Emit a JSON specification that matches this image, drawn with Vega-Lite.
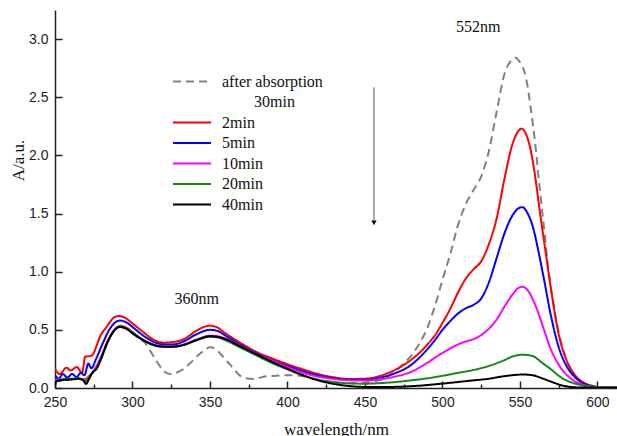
{
  "$schema": "https://vega.github.io/schema/vega-lite/v6.json",
  "width": 562,
  "height": 378,
  "autosize": "none",
  "padding": {"left": 55, "top": 10, "right": 0, "bottom": 48},
  "background": "white",
  "config": {"view": {"stroke": null}},
  "layer": [
    {
      "data": {"values": [
        {"series":"after absorption","nm":250,"A":0.02},{"series":"after absorption","nm":251,"A":0.06},{"series":"after absorption","nm":253,"A":0.065},{"series":"after absorption","nm":256,"A":0.07},{"series":"after absorption","nm":259,"A":0.072},{"series":"after absorption","nm":262,"A":0.075},{"series":"after absorption","nm":265,"A":0.08},{"series":"after absorption","nm":268,"A":0.07},{"series":"after absorption","nm":270,"A":0.035},{"series":"after absorption","nm":272,"A":0.08},{"series":"after absorption","nm":274,"A":0.13},{"series":"after absorption","nm":277,"A":0.17},{"series":"after absorption","nm":280,"A":0.26},{"series":"after absorption","nm":284,"A":0.40},{"series":"after absorption","nm":288,"A":0.49},{"series":"after absorption","nm":292,"A":0.525},{"series":"after absorption","nm":296,"A":0.51},{"series":"after absorption","nm":300,"A":0.47},{"series":"after absorption","nm":305,"A":0.42},{"series":"after absorption","nm":308,"A":0.39},{"series":"after absorption","nm":311,"A":0.33},{"series":"after absorption","nm":315,"A":0.24},{"series":"after absorption","nm":320,"A":0.15},{"series":"after absorption","nm":324,"A":0.12},{"series":"after absorption","nm":328,"A":0.13},{"series":"after absorption","nm":333,"A":0.165},{"series":"after absorption","nm":337,"A":0.21},{"series":"after absorption","nm":341,"A":0.265},{"series":"after absorption","nm":346,"A":0.32},{"series":"after absorption","nm":350,"A":0.35},{"series":"after absorption","nm":353,"A":0.34},{"series":"after absorption","nm":357,"A":0.29},{"series":"after absorption","nm":361,"A":0.23},{"series":"after absorption","nm":365,"A":0.17},{"series":"after absorption","nm":369,"A":0.11},{"series":"after absorption","nm":373,"A":0.085},{"series":"after absorption","nm":378,"A":0.078},{"series":"after absorption","nm":386,"A":0.10},{"series":"after absorption","nm":393,"A":0.105},{"series":"after absorption","nm":400,"A":0.11},{"series":"after absorption","nm":408,"A":0.105},{"series":"after absorption","nm":415,"A":0.085},{"series":"after absorption","nm":425,"A":0.055},{"series":"after absorption","nm":435,"A":0.04},{"series":"after absorption","nm":445,"A":0.04},{"series":"after absorption","nm":455,"A":0.055},{"series":"after absorption","nm":462,"A":0.08},{"series":"after absorption","nm":470,"A":0.15},{"series":"after absorption","nm":475,"A":0.21},{"series":"after absorption","nm":480,"A":0.28},{"series":"after absorption","nm":485,"A":0.38},{"series":"after absorption","nm":490,"A":0.51},{"series":"after absorption","nm":495,"A":0.70},{"series":"after absorption","nm":500,"A":0.93},{"series":"after absorption","nm":505,"A":1.15},{"series":"after absorption","nm":510,"A":1.40},{"series":"after absorption","nm":515,"A":1.58},{"series":"after absorption","nm":520,"A":1.70},{"series":"after absorption","nm":525,"A":1.82},{"series":"after absorption","nm":530,"A":2.04},{"series":"after absorption","nm":535,"A":2.38},{"series":"after absorption","nm":540,"A":2.70},{"series":"after absorption","nm":544,"A":2.81},{"series":"after absorption","nm":547,"A":2.84},{"series":"after absorption","nm":550,"A":2.80},{"series":"after absorption","nm":554,"A":2.66},{"series":"after absorption","nm":557,"A":2.40},{"series":"after absorption","nm":560,"A":2.08},{"series":"after absorption","nm":563,"A":1.68},{"series":"after absorption","nm":566,"A":1.32},{"series":"after absorption","nm":568,"A":1.06},{"series":"after absorption","nm":570,"A":0.86},{"series":"after absorption","nm":575,"A":0.48},{"series":"after absorption","nm":580,"A":0.24},{"series":"after absorption","nm":585,"A":0.11},{"series":"after absorption","nm":590,"A":0.05},{"series":"after absorption","nm":595,"A":0.02},{"series":"after absorption","nm":600,"A":0.008},{"series":"after absorption","nm":610,"A":0.002},

        {"series":"2min","nm":250,"A":0.165},{"series":"2min","nm":253,"A":0.12},{"series":"2min","nm":257.5,"A":0.175},{"series":"2min","nm":260,"A":0.15},{"series":"2min","nm":264,"A":0.18},{"series":"2min","nm":267.5,"A":0.13},{"series":"2min","nm":269.5,"A":0.27},{"series":"2min","nm":273,"A":0.275},{"series":"2min","nm":275,"A":0.30},{"series":"2min","nm":277,"A":0.37},{"series":"2min","nm":279,"A":0.44},{"series":"2min","nm":283,"A":0.52},{"series":"2min","nm":287.5,"A":0.60},{"series":"2min","nm":291,"A":0.62},{"series":"2min","nm":295,"A":0.605},{"series":"2min","nm":300,"A":0.555},{"series":"2min","nm":307,"A":0.48},{"series":"2min","nm":313,"A":0.42},{"series":"2min","nm":320,"A":0.39},{"series":"2min","nm":326,"A":0.395},{"series":"2min","nm":333,"A":0.42},{"series":"2min","nm":341,"A":0.49},{"series":"2min","nm":346,"A":0.525},{"series":"2min","nm":350,"A":0.535},{"series":"2min","nm":354,"A":0.525},{"series":"2min","nm":360,"A":0.47},{"series":"2min","nm":370,"A":0.385},{"series":"2min","nm":380,"A":0.31},{"series":"2min","nm":390,"A":0.255},{"series":"2min","nm":400,"A":0.205},{"series":"2min","nm":410,"A":0.16},{"series":"2min","nm":420,"A":0.12},{"series":"2min","nm":430,"A":0.092},{"series":"2min","nm":440,"A":0.077},{"series":"2min","nm":450,"A":0.08},{"series":"2min","nm":460,"A":0.105},{"series":"2min","nm":470,"A":0.16},{"series":"2min","nm":480,"A":0.245},{"series":"2min","nm":485,"A":0.30},{"series":"2min","nm":490,"A":0.37},{"series":"2min","nm":495,"A":0.45},{"series":"2min","nm":500,"A":0.56},{"series":"2min","nm":505,"A":0.68},{"series":"2min","nm":510,"A":0.82},{"series":"2min","nm":515,"A":0.94},{"series":"2min","nm":520,"A":1.02},{"series":"2min","nm":525,"A":1.09},{"series":"2min","nm":530,"A":1.24},{"series":"2min","nm":535,"A":1.46},{"series":"2min","nm":540,"A":1.80},{"series":"2min","nm":545,"A":2.09},{"series":"2min","nm":549,"A":2.21},{"series":"2min","nm":551,"A":2.23},{"series":"2min","nm":554,"A":2.18},{"series":"2min","nm":557,"A":2.04},{"series":"2min","nm":560,"A":1.80},{"series":"2min","nm":563,"A":1.50},{"series":"2min","nm":566,"A":1.22},{"series":"2min","nm":570,"A":0.85},{"series":"2min","nm":575,"A":0.46},{"series":"2min","nm":580,"A":0.24},{"series":"2min","nm":585,"A":0.12},{"series":"2min","nm":590,"A":0.055},{"series":"2min","nm":595,"A":0.025},{"series":"2min","nm":600,"A":0.01},{"series":"2min","nm":605,"A":0.004},{"series":"2min","nm":612.6,"A":0.002},

        {"series":"5min","nm":250,"A":0.11},{"series":"5min","nm":252.5,"A":0.08},{"series":"5min","nm":255,"A":0.12},{"series":"5min","nm":258,"A":0.09},{"series":"5min","nm":261,"A":0.12},{"series":"5min","nm":264,"A":0.095},{"series":"5min","nm":266.5,"A":0.13},{"series":"5min","nm":269,"A":0.11},{"series":"5min","nm":271.5,"A":0.21},{"series":"5min","nm":273.5,"A":0.17},{"series":"5min","nm":276.5,"A":0.25},{"series":"5min","nm":281,"A":0.39},{"series":"5min","nm":285,"A":0.50},{"series":"5min","nm":289,"A":0.565},{"series":"5min","nm":292,"A":0.58},{"series":"5min","nm":296,"A":0.565},{"series":"5min","nm":300,"A":0.525},{"series":"5min","nm":307,"A":0.45},{"series":"5min","nm":314,"A":0.395},{"series":"5min","nm":320,"A":0.375},{"series":"5min","nm":326,"A":0.375},{"series":"5min","nm":333,"A":0.40},{"series":"5min","nm":341,"A":0.46},{"series":"5min","nm":350,"A":0.50},{"series":"5min","nm":355,"A":0.49},{"series":"5min","nm":360,"A":0.45},{"series":"5min","nm":370,"A":0.37},{"series":"5min","nm":380,"A":0.30},{"series":"5min","nm":390,"A":0.24},{"series":"5min","nm":400,"A":0.19},{"series":"5min","nm":410,"A":0.145},{"series":"5min","nm":420,"A":0.108},{"series":"5min","nm":430,"A":0.083},{"series":"5min","nm":440,"A":0.07},{"series":"5min","nm":450,"A":0.07},{"series":"5min","nm":460,"A":0.09},{"series":"5min","nm":470,"A":0.13},{"series":"5min","nm":480,"A":0.20},{"series":"5min","nm":485,"A":0.26},{"series":"5min","nm":490,"A":0.33},{"series":"5min","nm":495,"A":0.41},{"series":"5min","nm":500,"A":0.50},{"series":"5min","nm":505,"A":0.575},{"series":"5min","nm":510,"A":0.64},{"series":"5min","nm":515,"A":0.685},{"series":"5min","nm":520,"A":0.715},{"series":"5min","nm":525,"A":0.77},{"series":"5min","nm":530,"A":0.91},{"series":"5min","nm":535,"A":1.12},{"series":"5min","nm":540,"A":1.33},{"series":"5min","nm":545,"A":1.48},{"series":"5min","nm":549,"A":1.545},{"series":"5min","nm":551.5,"A":1.555},{"series":"5min","nm":555,"A":1.50},{"series":"5min","nm":558,"A":1.40},{"series":"5min","nm":562,"A":1.17},{"series":"5min","nm":565,"A":0.97},{"series":"5min","nm":570,"A":0.62},{"series":"5min","nm":575,"A":0.35},{"series":"5min","nm":580,"A":0.19},{"series":"5min","nm":585,"A":0.10},{"series":"5min","nm":590,"A":0.045},{"series":"5min","nm":595,"A":0.02},{"series":"5min","nm":600,"A":0.008},{"series":"5min","nm":612.6,"A":0.002},

        {"series":"10min","nm":250,"A":0.07},{"series":"10min","nm":256,"A":0.075},{"series":"10min","nm":262,"A":0.08},{"series":"10min","nm":268,"A":0.075},{"series":"10min","nm":272,"A":0.10},{"series":"10min","nm":276,"A":0.17},{"series":"10min","nm":280,"A":0.28},{"series":"10min","nm":285,"A":0.43},{"series":"10min","nm":289,"A":0.51},{"series":"10min","nm":292,"A":0.535},{"series":"10min","nm":296,"A":0.52},{"series":"10min","nm":300,"A":0.48},{"series":"10min","nm":307,"A":0.415},{"series":"10min","nm":315,"A":0.37},{"series":"10min","nm":320,"A":0.36},{"series":"10min","nm":326,"A":0.36},{"series":"10min","nm":333,"A":0.375},{"series":"10min","nm":341,"A":0.415},{"series":"10min","nm":350,"A":0.45},{"series":"10min","nm":355,"A":0.445},{"series":"10min","nm":360,"A":0.425},{"series":"10min","nm":370,"A":0.36},{"series":"10min","nm":380,"A":0.295},{"series":"10min","nm":390,"A":0.235},{"series":"10min","nm":400,"A":0.18},{"series":"10min","nm":410,"A":0.13},{"series":"10min","nm":420,"A":0.097},{"series":"10min","nm":430,"A":0.077},{"series":"10min","nm":440,"A":0.066},{"series":"10min","nm":450,"A":0.064},{"series":"10min","nm":460,"A":0.075},{"series":"10min","nm":470,"A":0.10},{"series":"10min","nm":480,"A":0.14},{"series":"10min","nm":485,"A":0.175},{"series":"10min","nm":490,"A":0.215},{"series":"10min","nm":498,"A":0.285},{"series":"10min","nm":505,"A":0.34},{"series":"10min","nm":511,"A":0.38},{"series":"10min","nm":515,"A":0.40},{"series":"10min","nm":520,"A":0.42},{"series":"10min","nm":525,"A":0.455},{"series":"10min","nm":530,"A":0.51},{"series":"10min","nm":535,"A":0.59},{"series":"10min","nm":540,"A":0.70},{"series":"10min","nm":545,"A":0.80},{"series":"10min","nm":549,"A":0.86},{"series":"10min","nm":551.5,"A":0.87},{"series":"10min","nm":555,"A":0.84},{"series":"10min","nm":558,"A":0.77},{"series":"10min","nm":562,"A":0.64},{"series":"10min","nm":565,"A":0.52},{"series":"10min","nm":570,"A":0.33},{"series":"10min","nm":575,"A":0.20},{"series":"10min","nm":580,"A":0.115},{"series":"10min","nm":585,"A":0.06},{"series":"10min","nm":590,"A":0.03},{"series":"10min","nm":595,"A":0.013},{"series":"10min","nm":600,"A":0.005},{"series":"10min","nm":612.6,"A":0.002},

        {"series":"20min","nm":250,"A":0.07},{"series":"20min","nm":253,"A":0.06},{"series":"20min","nm":256,"A":0.08},{"series":"20min","nm":259,"A":0.075},{"series":"20min","nm":262,"A":0.08},{"series":"20min","nm":265,"A":0.085},{"series":"20min","nm":268,"A":0.07},{"series":"20min","nm":270,"A":0.06},{"series":"20min","nm":272,"A":0.10},{"series":"20min","nm":275,"A":0.14},{"series":"20min","nm":278,"A":0.20},{"series":"20min","nm":281,"A":0.30},{"series":"20min","nm":285,"A":0.42},{"series":"20min","nm":289,"A":0.51},{"series":"20min","nm":292,"A":0.53},{"series":"20min","nm":296,"A":0.515},{"series":"20min","nm":300,"A":0.48},{"series":"20min","nm":307,"A":0.41},{"series":"20min","nm":315,"A":0.365},{"series":"20min","nm":320,"A":0.355},{"series":"20min","nm":326,"A":0.355},{"series":"20min","nm":333,"A":0.37},{"series":"20min","nm":341,"A":0.41},{"series":"20min","nm":350,"A":0.44},{"series":"20min","nm":355,"A":0.435},{"series":"20min","nm":360,"A":0.41},{"series":"20min","nm":370,"A":0.345},{"series":"20min","nm":380,"A":0.28},{"series":"20min","nm":390,"A":0.215},{"series":"20min","nm":400,"A":0.16},{"series":"20min","nm":410,"A":0.108},{"series":"20min","nm":420,"A":0.072},{"series":"20min","nm":430,"A":0.052},{"series":"20min","nm":440,"A":0.04},{"series":"20min","nm":450,"A":0.037},{"series":"20min","nm":460,"A":0.042},{"series":"20min","nm":470,"A":0.052},{"series":"20min","nm":480,"A":0.066},{"series":"20min","nm":490,"A":0.083},{"series":"20min","nm":500,"A":0.105},{"series":"20min","nm":510,"A":0.13},{"series":"20min","nm":520,"A":0.155},{"series":"20min","nm":530,"A":0.19},{"series":"20min","nm":540,"A":0.24},{"series":"20min","nm":545,"A":0.27},{"series":"20min","nm":552,"A":0.286},{"series":"20min","nm":558,"A":0.275},{"series":"20min","nm":565,"A":0.21},{"series":"20min","nm":570,"A":0.16},{"series":"20min","nm":576,"A":0.095},{"series":"20min","nm":580,"A":0.065},{"series":"20min","nm":587,"A":0.033},{"series":"20min","nm":595,"A":0.013},{"series":"20min","nm":600,"A":0.008},{"series":"20min","nm":612.6,"A":0.004},

        {"series":"40min","nm":250,"A":0.02},{"series":"40min","nm":251,"A":0.06},{"series":"40min","nm":253,"A":0.065},{"series":"40min","nm":256,"A":0.07},{"series":"40min","nm":259,"A":0.072},{"series":"40min","nm":262,"A":0.075},{"series":"40min","nm":265,"A":0.08},{"series":"40min","nm":268,"A":0.07},{"series":"40min","nm":270,"A":0.035},{"series":"40min","nm":272,"A":0.08},{"series":"40min","nm":274,"A":0.13},{"series":"40min","nm":277,"A":0.17},{"series":"40min","nm":280,"A":0.26},{"series":"40min","nm":284,"A":0.40},{"series":"40min","nm":288,"A":0.49},{"series":"40min","nm":292,"A":0.525},{"series":"40min","nm":296,"A":0.51},{"series":"40min","nm":300,"A":0.47},{"series":"40min","nm":307,"A":0.41},{"series":"40min","nm":315,"A":0.365},{"series":"40min","nm":320,"A":0.355},{"series":"40min","nm":326,"A":0.355},{"series":"40min","nm":333,"A":0.37},{"series":"40min","nm":341,"A":0.41},{"series":"40min","nm":350,"A":0.445},{"series":"40min","nm":355,"A":0.44},{"series":"40min","nm":360,"A":0.42},{"series":"40min","nm":370,"A":0.355},{"series":"40min","nm":380,"A":0.29},{"series":"40min","nm":390,"A":0.225},{"series":"40min","nm":400,"A":0.165},{"series":"40min","nm":410,"A":0.11},{"series":"40min","nm":420,"A":0.065},{"series":"40min","nm":430,"A":0.035},{"series":"40min","nm":440,"A":0.017},{"series":"40min","nm":450,"A":0.009},{"series":"40min","nm":460,"A":0.008},{"series":"40min","nm":470,"A":0.01},{"series":"40min","nm":485,"A":0.02},{"series":"40min","nm":500,"A":0.038},{"series":"40min","nm":518,"A":0.063},{"series":"40min","nm":530,"A":0.08},{"series":"40min","nm":539,"A":0.10},{"series":"40min","nm":545,"A":0.11},{"series":"40min","nm":552,"A":0.116},{"series":"40min","nm":558,"A":0.11},{"series":"40min","nm":565,"A":0.08},{"series":"40min","nm":570,"A":0.055},{"series":"40min","nm":576,"A":0.027},{"series":"40min","nm":582,"A":0.01},{"series":"40min","nm":590,"A":0.004},{"series":"40min","nm":600,"A":0.002},{"series":"40min","nm":612.6,"A":0.002}
      ]},
      "mark": {"type": "line", "strokeWidth": 2, "interpolate": "monotone", "clip": true},
      "encoding": {
        "x": {
          "field": "nm", "type": "quantitative",
          "scale": {"domain": [250, 612.6], "nice": false, "zero": false},
          "axis": {
            "title": "wavelength/nm",
            "values": [250,275,300,325,350,375,400,425,450,475,500,525,550,575,600],
            "labelExpr": "datum.value % 50 === 0 ? format(datum.value, 'd') : ''",
            "labelFlush": false,
            "labelPadding": 14,
            "tickSize": {"condition": {"test": "datum.value % 50 === 0", "value": -7}, "value": -4},
            "grid": false,
            "domainColor": "#222", "tickColor": "#222", "domainWidth": 1.5, "tickWidth": 1.5,
            "labelFont": "Liberation Sans", "labelFontSize": 14, "labelColor": "#222",
            "titleFont": "Liberation Serif", "titleFontSize": 17, "titleFontWeight": "normal", "titleColor": "#111",
            "titleY": 46, "titleBaseline": "alphabetic"
          }
        },
        "y": {
          "field": "A", "type": "quantitative",
          "scale": {"domain": [0, 3.25], "nice": false},
          "axis": {
            "title": "A/a.u.",
            "values": [0,0.25,0.5,0.75,1,1.25,1.5,1.75,2,2.25,2.5,2.75,3,3.25],
            "labelExpr": "round(datum.value*4) % 2 === 0 ? format(datum.value, '.1f') : ''",
            "labelFlush": false,
            "labelPadding": 14,
            "tickSize": {"condition": {"test": "round(datum.value*4) % 2 === 0", "value": -7}, "value": -4},
            "grid": false,
            "domainColor": "#222", "tickColor": "#222", "domainWidth": 1.5, "tickWidth": 1.5,
            "labelFont": "Liberation Sans", "labelFontSize": 14, "labelColor": "#222",
            "titleFont": "Liberation Serif", "titleFontSize": 17, "titleFontWeight": "normal", "titleColor": "#111",
            "titleX": -37, "titleY": 150, "titleAlign": "center", "titleBaseline": "middle"
          }
        },
        "color": {
          "field": "series", "type": "nominal",
          "scale": {
            "domain": ["after absorption", "\u200b\u00a0\u00a0\u00a0\u00a0\u00a0\u00a0\u00a0\u00a030min", "2min", "5min", "10min", "20min", "40min"],
            "range": ["#808080", "transparent", "#ff0000", "#0000ff", "#ff00ff", "#138a13", "#000000"]
          },
          "legend": {
            "orient": "none", "legendX": 129, "legendY": 63.5, "title": null, "padding": 0,
            "symbolType": "M-3.8,0H3.8", "symbolSize": 100, "symbolStrokeWidth": 2,
            "labelFont": "Liberation Serif", "labelFontSize": 16, "labelColor": "#111", "labelOffset": 22,
            "rowPadding": 4.5
          }
        },
        "strokeDash": {
          "field": "series", "type": "nominal",
          "scale": {
            "domain": ["after absorption", "\u200b\u00a0\u00a0\u00a0\u00a0\u00a0\u00a0\u00a0\u00a030min", "2min", "5min", "10min", "20min", "40min"],
            "range": [[8, 5], [1, 0], [1, 0], [1, 0], [1, 0], [1, 0], [1, 0]]
          },
          "legend": {
            "orient": "none", "legendX": 129, "legendY": 63.5, "title": null, "padding": 0,
            "symbolType": "M-3.8,0H3.8", "symbolSize": 100, "symbolStrokeWidth": 2,
            "labelFont": "Liberation Serif", "labelFontSize": 16, "labelColor": "#111", "labelOffset": 22,
            "rowPadding": 4.5
          }
        }
      }
    },
    {
      "data": {"values": [
        {"label": "552nm", "nm": 523, "A": 3.10},
        {"label": "360nm", "nm": 341.4, "A": 0.763}
      ]},
      "mark": {"type": "text", "font": "Liberation Serif", "fontSize": 16, "color": "#111", "align": "center", "baseline": "middle"},
      "encoding": {
        "x": {"field": "nm", "type": "quantitative"},
        "y": {"field": "A", "type": "quantitative"},
        "text": {"field": "label"}
      }
    },
    {
      "data": {"values": [{"nm": 455.8, "top": 2.585, "bottom": 1.43}]},
      "mark": {"type": "rule", "color": "#555", "strokeWidth": 1},
      "encoding": {
        "x": {"field": "nm", "type": "quantitative"},
        "y": {"field": "top", "type": "quantitative"},
        "y2": {"field": "bottom"}
      }
    },
    {
      "data": {"values": [{"nm": 455.8, "tip": 1.42}]},
      "mark": {"type": "point", "shape": "triangle-down", "filled": true, "color": "#111", "size": 30, "opacity": 1},
      "encoding": {
        "x": {"field": "nm", "type": "quantitative"},
        "y": {"field": "tip", "type": "quantitative"}
      }
    }
  ]
}
